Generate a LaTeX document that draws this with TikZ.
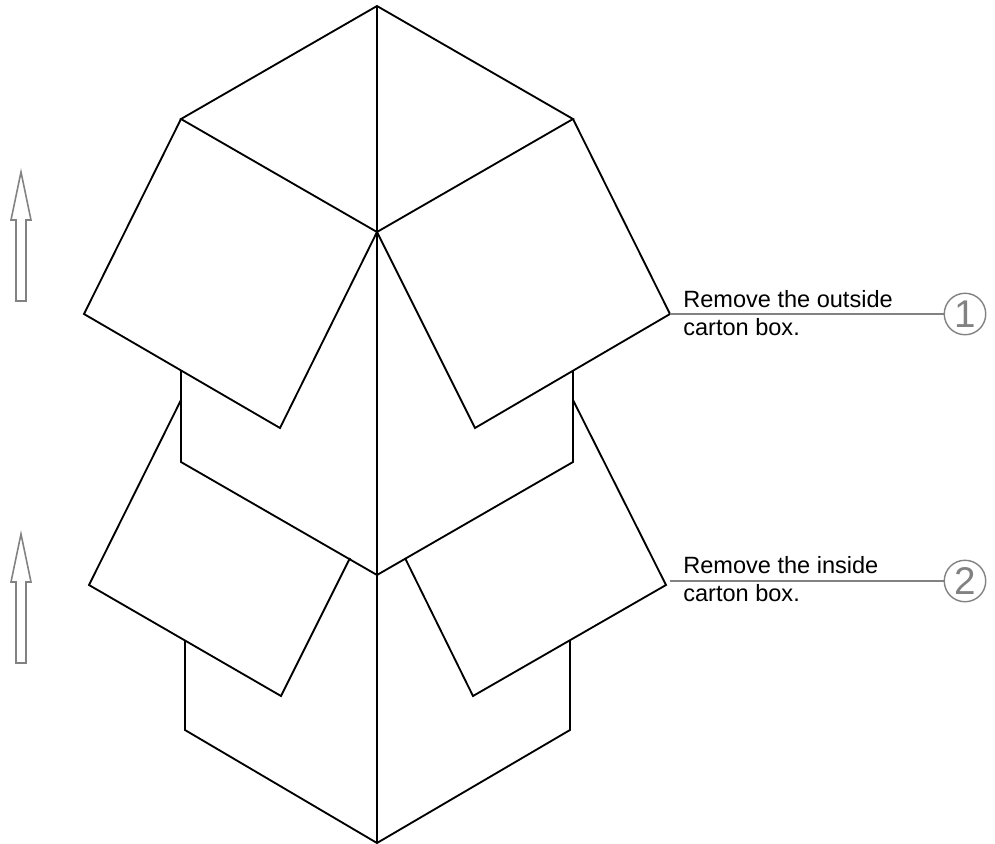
\documentclass[tikz,border=0pt]{standalone}
\usepackage{fontspec}
\setmainfont{Liberation Sans}
\usetikzlibrary{positioning}
\definecolor{gc}{RGB}{130,130,130}
\tikzset{edge/.style={line width=1.05pt,line join=miter},
 lead/.style={gc,line width=1pt},
 num/.style={draw=gc,circle,line width=.8pt,minimum size=8.3mm,inner sep=0pt,text=gc,font=\fontsize{22}{22}\selectfont},
 note/.style={align=left,inner sep=0pt,font=\fontsize{13.4}{15.8}\selectfont},
 uparr/.style={draw=gc,line width=.9pt,fill=white}}
\begin{document}
\begin{tikzpicture}[x=.02cm,y=-.02cm]
\useasboundingbox (0,0) rectangle (995,843);
\draw[edge] (377,232)--(181,119)--(377,6)--(573,119)--cycle;
\draw[edge] (181,119)--(84,314)--(280,428)--(377,232)--(475,428)--(670,314)--(573,119);
\draw[edge] (181,371)--(181,462)--(377,575)--(573,462)--(573,371);
\draw[edge] (181,400)--(89,585)--(281,696)--(350,558);
\draw[edge] (573,400)--(666,585)--(473,696)--(405,558);
\draw[edge] (185,640)--(185,730)--(377,843)--(570,730)--(570,640);
\draw[edge] (377,6)--(377,843);\draw[edge] (377,283)--(377,575);
\foreach \k/\y in {0/0,1/362}{
\draw[uparr] (16,301+\y)--(16,220+\y)--(11,220+\y)--(21,172+\y)--(31,220+\y)--(26,220+\y)--(26,301+\y)--cycle;}
\coordinate (c1) at (670,314);\coordinate (c2) at (670,581);
\node[num] (n1) at (965,314) {1};\node[num] (n2) at (965,581) {2};
\draw[lead] (c1)--(n1);\draw[lead] (c2)--(n2);
\node[note,anchor=west] (t1) at (683,313) {Remove the outside\\carton box.};
\node[note,anchor=west] (t2) at (683,579) {Remove the inside\\carton box.};
\end{tikzpicture}
\end{document}
